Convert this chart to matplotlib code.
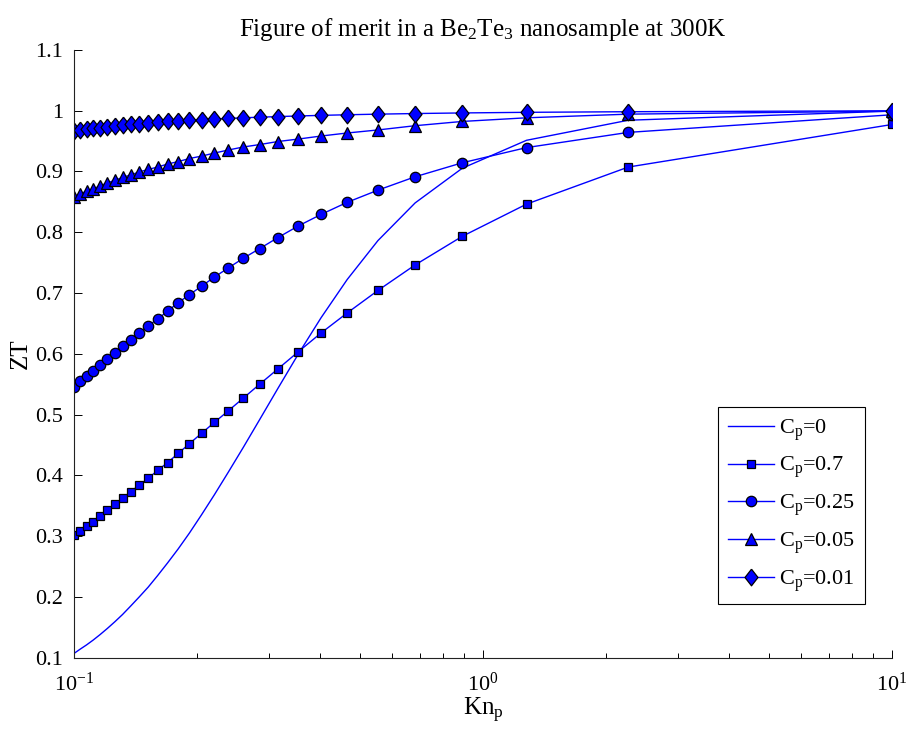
import matplotlib
matplotlib.use('Agg')
import matplotlib.pyplot as plt
from matplotlib.ticker import FixedLocator, FuncFormatter

plt.rcParams['font.family'] = ['Liberation Serif', 'DejaVu Serif']
plt.rcParams['mathtext.fontset'] = 'custom'
plt.rcParams['mathtext.rm'] = 'Liberation Serif'
plt.rcParams['mathtext.it'] = 'Liberation Serif:italic'
plt.rcParams['mathtext.default'] = 'rm'

# Kn_p sample points (same for every curve)
kn = [0.1, 0.1035, 0.1073, 0.1114, 0.1158, 0.1206, 0.1258, 0.1314, 0.1376, 0.1444,
      0.1518, 0.1601, 0.1694, 0.1798, 0.1915, 0.2050, 0.2204, 0.2383, 0.2594, 0.2846,
      0.3152, 0.3532, 0.4017, 0.4655, 0.5534, 0.6824, 0.8896, 1.2775, 2.2656, 10.0]

zt_c0 = [0.107, 0.114, 0.121, 0.129, 0.138, 0.148, 0.159, 0.171, 0.185, 0.200,
         0.216, 0.235, 0.256, 0.279, 0.305, 0.335, 0.368, 0.405, 0.446, 0.492,
         0.543, 0.599, 0.659, 0.722, 0.786, 0.848, 0.905, 0.951, 0.984, 0.999]
zt_c07 = [0.302, 0.309, 0.316, 0.324, 0.333, 0.343, 0.352, 0.362, 0.373, 0.384,
          0.395, 0.408, 0.421, 0.436, 0.452, 0.469, 0.487, 0.506, 0.527, 0.550,
          0.575, 0.603, 0.634, 0.667, 0.704, 0.746, 0.793, 0.846, 0.907, 0.977]
zt_c025 = [0.546, 0.555, 0.563, 0.572, 0.582, 0.591, 0.601, 0.612, 0.623, 0.634,
           0.646, 0.657, 0.670, 0.684, 0.697, 0.711, 0.726, 0.741, 0.757, 0.773,
           0.791, 0.810, 0.829, 0.849, 0.869, 0.891, 0.914, 0.939, 0.964, 0.993]
zt_c005 = [0.858, 0.863, 0.867, 0.871, 0.876, 0.881, 0.885, 0.890, 0.894, 0.899,
           0.903, 0.907, 0.912, 0.916, 0.921, 0.925, 0.930, 0.935, 0.940, 0.944,
           0.949, 0.953, 0.958, 0.963, 0.968, 0.975, 0.982, 0.988, 0.994, 0.999]
zt_c001 = [0.967, 0.968, 0.970, 0.971, 0.972, 0.973, 0.974, 0.976, 0.977, 0.978,
           0.979, 0.981, 0.982, 0.983, 0.984, 0.985, 0.986, 0.987, 0.988, 0.989,
           0.990, 0.991, 0.992, 0.993, 0.994, 0.995, 0.996, 0.997, 0.998, 0.9995]

labels = ['C$_\\mathrm{p}$=0', 'C$_\\mathrm{p}$=0.7', 'C$_\\mathrm{p}$=0.25',
          'C$_\\mathrm{p}$=0.05', 'C$_\\mathrm{p}$=0.01']
y_ticks = [0.1, 0.2, 0.3, 0.4, 0.5, 0.6, 0.7, 0.8, 0.9, 1.0, 1.1]

# MATLAB-like diamond: taller than wide
diamond = [(0, 1), (0.78, 0), (0, -1), (-0.78, 0), (0, 1)]

fig = plt.figure(figsize=(9.08, 7.32), dpi=100)
ax = fig.add_axes([0.0815, 0.1015, 0.9009, 0.8306])

blue = (0, 0, 1)
mk = dict(color=blue, markerfacecolor=blue, markeredgecolor='black', markeredgewidth=0.9, linewidth=1.0)
ax.plot(kn, zt_c0, color=blue, linewidth=1.0, label=labels[0])
ax.plot(kn, zt_c07, marker='s', markersize=5.5, label=labels[1], **mk)
ax.plot(kn, zt_c025, marker='o', markersize=7.5, label=labels[2], **mk)
ax.plot(kn, zt_c005, marker='^', markersize=8, label=labels[3], **mk)
ax.plot(kn, zt_c001, marker=diamond, markersize=12, label=labels[4], **mk)

ax.set_xscale('log')
ax.set_xlim(0.1, 10)
ax.set_ylim(0.1, 1.1)
ax.yaxis.set_major_locator(FixedLocator(y_ticks))
ax.yaxis.set_major_formatter(FuncFormatter(lambda v, p: '%g' % round(v, 2)))

for s in ['top', 'right']:
    ax.spines[s].set_visible(False)
for s in ['left', 'bottom']:
    ax.spines[s].set_linewidth(0.8)
    ax.spines[s].set_color('#222222')
ax.tick_params(which='major', direction='in', length=6, width=0.7, labelsize=16, pad=8)
ax.tick_params(which='minor', direction='in', length=3.5, width=0.7)
ax.tick_params(axis='x', which='major', pad=11)

ax.set_title('Figure of merit in a Be$_2$Te$_3$ nanosample at 300K', fontsize=18, pad=10)
ax.set_xlabel('Kn$_\\mathrm{p}$', fontsize=18, labelpad=0)
ax.set_ylabel('ZT', fontsize=18, labelpad=2)

leg = ax.legend(loc='upper left', bbox_to_anchor=(0.787, 0.412), fontsize=16,
                frameon=True, fancybox=False, edgecolor='black', framealpha=1,
                handlelength=2.1, handletextpad=0.2, labelspacing=0.55,
                borderpad=0.45, borderaxespad=0)
leg.get_frame().set_linewidth(0.8)

fig.savefig('out.png', dpi=100)
